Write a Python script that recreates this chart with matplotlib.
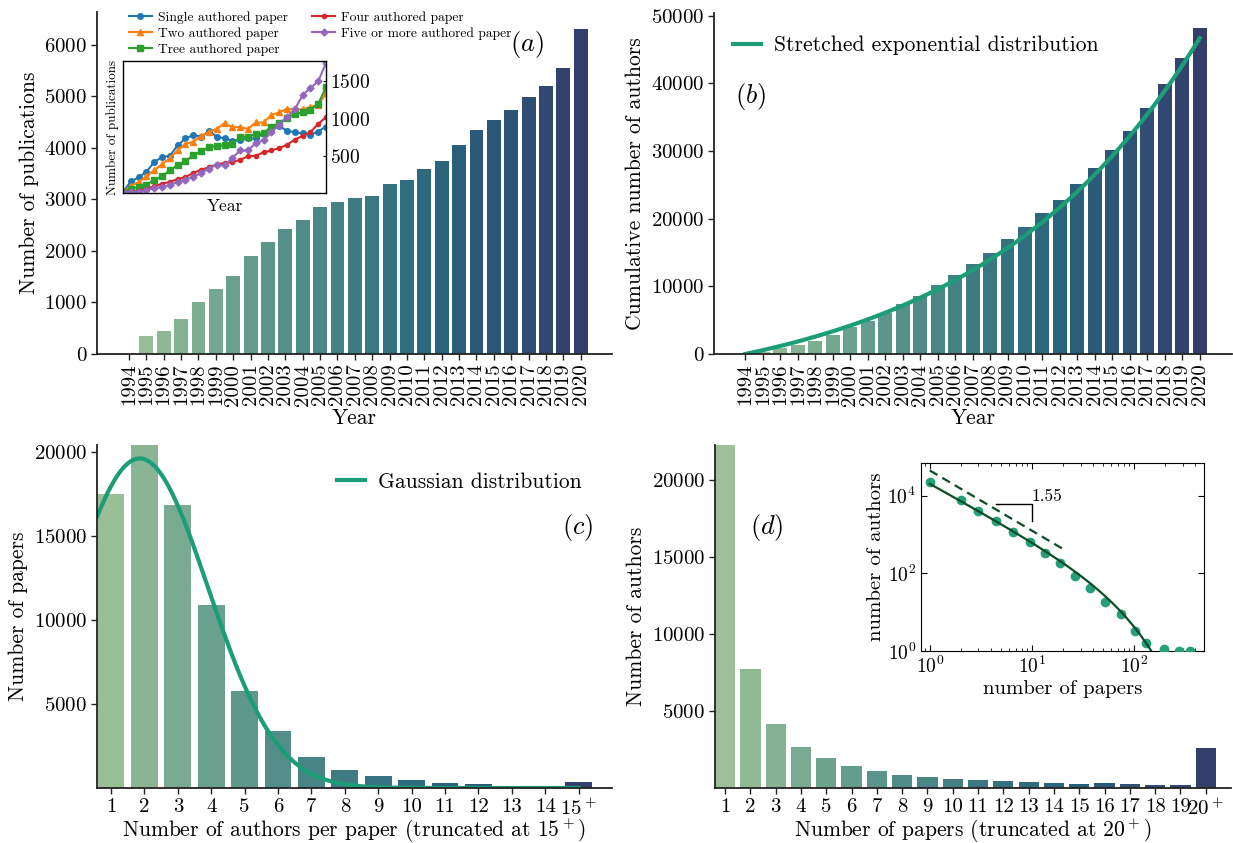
import numpy as np
import matplotlib
matplotlib.use("Agg")
import matplotlib.pyplot as plt
import seaborn as sns

plt.rcParams['font.family'] = 'serif'
plt.rcParams['font.serif'] = ['cmr10']
plt.rcParams['mathtext.fontset'] = 'cm'
plt.rcParams['axes.formatter.use_mathtext'] = True
plt.rcParams['axes.unicode_minus'] = False

# ---------------- data ----------------
years = list(range(1994, 2021))
year_labels = [str(y) for y in years]

publications = [0, 350, 450, 680, 1010, 1260, 1515, 1900, 2175, 2430, 2600, 2855, 2950,
                3030, 3070, 3300, 3380, 3590, 3750, 4060, 4350, 4545, 4740, 4990, 5205,
                5555, 6310]

single_auth = [30, 170, 223, 298, 425, 491, 509, 645, 737, 781, 763, 834, 763, 737, 706,
               711, 737, 737, 807, 873, 904, 838, 820, 803, 785, 829, 895]
two_auth = [30, 114, 158, 237, 316, 399, 478, 579, 667, 693, 772, 820, 864, 939, 886,
            886, 864, 948, 948, 1049, 1080, 1132, 1115, 1123, 1150, 1180, 1334]
three_auth = [30, 74, 96, 127, 193, 237, 316, 386, 434, 518, 566, 623, 640, 645, 667,
              755, 763, 794, 807, 895, 939, 1005, 1062, 1080, 1115, 1194, 1413]
four_auth = [30, 35, 48, 70, 105, 140, 162, 202, 228, 281, 325, 355, 395, 412, 425,
             456, 500, 509, 553, 579, 610, 654, 720, 772, 820, 930, 1018]
five_auth = [30, 30, 35, 53, 83, 96, 122, 158, 193, 228, 281, 338, 390, 382, 478,
             579, 579, 676, 711, 820, 921, 1023, 1120, 1309, 1405, 1493, 1734]

cumulative_authors = [60, 350, 840, 1340, 1980, 2870, 3960, 4950, 6040, 7420, 8560,
                      10250, 11730, 13370, 15000, 16930, 18710, 20790, 22720, 25100,
                      27470, 30150, 32970, 36390, 39850, 43800, 48200]
# stretched exponential fit parameters
sexp_A, sexp_tau, sexp_beta = 6984.0, 12.75, 1.0

authors_per_paper_labels = [str(i) for i in range(1, 15)] + ['15$^+$']
papers_by_nauthors = [17490, 20400, 16830, 10860, 5780, 3390, 1830, 1060, 700, 460,
                      280, 220, 100, 50, 340]
# gaussian fit parameters (x in units of number of authors)
gauss_A, gauss_mu, gauss_sigma = 19600.0, 1.86, 2.05

papers_per_author_labels = [str(i) for i in range(1, 20)] + ['20$^+$']
authors_by_npapers = [22300, 7740, 4150, 2650, 1935, 1410, 1090, 825, 695, 565, 500,
                      435, 370, 305, 240, 305, 240, 175, 175, 2590]

# log-binned inset data
inset_papers = [1, 2, 3, 4.5, 6.5, 9.5, 13.5, 19, 26.5, 37, 52, 74, 103, 131, 197, 278, 354]
inset_authors = [22400, 7600, 4030, 2230, 1200, 640, 340, 185, 87, 42, 18.6, 8.8, 3.3,
                 1.6, 1.1, 1.0, 1.0]
fit_C, fit_alpha, fit_xc = 20740.0, 1.45, 55.0
guide_C, guide_slope = 44900.0, 1.55

# ---------------- style ----------------
TICK_FS = 15
LABEL_FS = 15.5
FIT_COLOR = '#1b9e77'
W, H = 1233, 843

fig = plt.figure(figsize=(12.33, 8.43), dpi=100)


def fig_rect(l, t, r, b):
    return [l / W, 1 - b / H, (r - l) / W, (b - t) / H]


def palette(n):
    return [sns.desaturate(c, 0.75) for c in sns.color_palette('crest', n)]


def style_main(ax):
    for s in ['top', 'right']:
        ax.spines[s].set_visible(False)
    for s in ['left', 'bottom']:
        ax.spines[s].set_linewidth(1.3)
        ax.spines[s].set_color('#222222')
    ax.tick_params(axis='both', direction='out', length=4, width=1.0,
                   labelsize=TICK_FS, pad=3, color='#222222')


# ---------------- (a) ----------------
ax_a = fig.add_axes(fig_rect(97, 12, 612, 354))
cols_a = palette(len(years))
xa = np.arange(len(years))
ax_a.bar(xa, publications, width=0.8, color=cols_a)
ax_a.set_xlim(-1.84, 27.8)
ax_a.set_ylim(0, 6635)
ax_a.set_xticks(xa)
ax_a.set_xticklabels(year_labels, rotation=90)
ax_a.set_yticks(np.arange(0, 7000, 1000))
ax_a.set_xlabel('Year', fontsize=LABEL_FS, labelpad=2)
ax_a.set_ylabel('Number of publications', fontsize=LABEL_FS)
style_main(ax_a)
ax_a.text(0.835, 0.905, '$(a)$', transform=ax_a.transAxes, fontsize=19,
          ha='center', va='center')

ax_ai = fig.add_axes(fig_rect(123, 61, 326, 193))
series = [
    (single_auth, 'Single authored paper', '#1f77b4', 'o', 4.0),
    (two_auth, 'Two authored paper', '#ff7f0e', '^', 4.5),
    (three_auth, 'Tree authored paper', '#2ca02c', 's', 4.0),
    (four_auth, 'Four authored paper', '#d62728', 'o', 3.0),
    (five_auth, 'Five or more authored paper', '#9467bd', 'D', 3.5),
]
handles = []
for vals, lab, c, m, ms in series:
    h, = ax_ai.plot(years, vals, color=c, marker=m, ms=ms, lw=1.5, label=lab)
    handles.append(h)
ax_ai.set_xlim(1994, 2020)
ax_ai.set_ylim(17, 1760)
ax_ai.set_xticks([])
ax_ai.set_yticks([500, 1000, 1500])
ax_ai.tick_params(axis='y', left=False, right=True, labelleft=False, labelright=True,
                  labelsize=14, length=2, pad=3, direction='in')
for s in ax_ai.spines.values():
    s.set_linewidth(1.0)
ax_ai.set_xlabel('Year', fontsize=12.5, labelpad=4)
ax_ai.set_ylabel('Number of publications', fontsize=9.5, labelpad=3)
ax_ai.legend(handles=handles, loc='upper left', bbox_to_anchor=(129 / W, 1 - 11 / H),
             bbox_transform=fig.transFigure, ncol=2, frameon=False, fontsize=9.7,
             handlelength=1.7, handletextpad=0.45, columnspacing=1.8,
             labelspacing=0.27, borderpad=0, borderaxespad=0)

# ---------------- (b) ----------------
ax_b = fig.add_axes(fig_rect(714, 13, 1232, 354))
xb = np.arange(len(years))
ax_b.bar(xb, cumulative_authors, width=0.8, color=cols_a)
t = np.linspace(0, len(years) - 1, 300)
fit_b = sexp_A * (np.exp((t / sexp_tau) ** sexp_beta) - 1)
ax_b.plot(t, fit_b, color=FIT_COLOR, lw=3, label='Stretched exponential distribution')
ax_b.set_xlim(-1.8, 27.85)
ax_b.set_ylim(0, 50400)
ax_b.set_xticks(xb)
ax_b.set_xticklabels(year_labels, rotation=90)
ax_b.set_yticks(np.arange(0, 50001, 10000))
ax_b.set_xlabel('Year', fontsize=LABEL_FS, labelpad=2)
ax_b.set_ylabel('Cumulative number of authors', fontsize=LABEL_FS)
style_main(ax_b)
ax_b.legend(loc='upper left', bbox_to_anchor=(0, 0.99), frameon=False, fontsize=15.5,
            handlelength=1.3, handletextpad=0.6)
ax_b.text(0.07, 0.755, '$(b)$', transform=ax_b.transAxes, fontsize=19,
          ha='center', va='center')

# ---------------- (c) ----------------
ax_c = fig.add_axes(fig_rect(97, 445, 612, 788))
xc = np.arange(len(papers_by_nauthors))
cols_c = palette(len(xc))
ax_c.bar(xc, papers_by_nauthors, width=0.8, color=cols_c)
xg = np.linspace(-0.42, len(xc) - 1, 400)
gauss = gauss_A * np.exp(-((xg + 1) - gauss_mu) ** 2 / (2 * gauss_sigma ** 2))
ax_c.plot(xg, gauss, color=FIT_COLOR, lw=3, label='Gaussian distribution')
ax_c.set_xlim(-0.42, 15.0)
ax_c.set_ylim(0, max(papers_by_nauthors))
ax_c.set_xticks(xc)
ax_c.set_xticklabels(authors_per_paper_labels)
ax_c.set_yticks([5000, 10000, 15000, 20000])
ax_c.set_xlabel('Number of authors per paper (truncated at 15$^+$)', fontsize=LABEL_FS,
                labelpad=-1)
ax_c.set_ylabel('Number of papers', fontsize=LABEL_FS)
style_main(ax_c)
ax_c.legend(loc='upper right', bbox_to_anchor=(0.979, 0.977), frameon=False,
            fontsize=15.5, handlelength=1.3, handletextpad=0.6)
ax_c.text(0.934, 0.76, '$(c)$', transform=ax_c.transAxes, fontsize=19,
          ha='center', va='center')

# ---------------- (d) ----------------
ax_d = fig.add_axes(fig_rect(715, 445, 1231, 788))
xd = np.arange(len(authors_by_npapers))
cols_d = palette(len(xd))
ax_d.bar(xd, authors_by_npapers, width=0.8, color=cols_d)
ax_d.set_xlim(-0.4, 20.0)
ax_d.set_ylim(0, max(authors_by_npapers))
ax_d.set_xticks(xd)
ax_d.set_xticklabels(papers_per_author_labels)
ax_d.set_yticks([5000, 10000, 15000, 20000])
ax_d.set_xlabel('Number of papers (truncated at 20$^+$)', fontsize=LABEL_FS, labelpad=-1)
ax_d.set_ylabel('Number of authors', fontsize=LABEL_FS)
style_main(ax_d)
ax_d.text(0.1, 0.76, '$(d)$', transform=ax_d.transAxes, fontsize=19,
          ha='center', va='center')

ax_di = fig.add_axes(fig_rect(921, 463, 1204, 651))
ax_di.plot(inset_papers, inset_authors, 'o', color='#26a07a', ms=6, zorder=3,
           clip_on=True)
xf = np.logspace(0, np.log10(170), 300)
yf = fit_C * xf ** (-fit_alpha) * np.exp(-xf / fit_xc)
ax_di.plot(xf, yf, color='#0b4d26', lw=1.6, zorder=4)
xgd = np.logspace(0, np.log10(20), 50)
ax_di.plot(xgd, guide_C * xgd ** (-guide_slope), '--', color='#0b4d26', lw=1.6,
           dashes=(4, 2.5))
ax_di.plot([4.5, 10, 10], [6220, 6220, 2230], color='black', lw=1.0)
ax_di.text(10, 6300, '1.55', fontsize=12.5, ha='left', va='bottom')
ax_di.set_xscale('log')
ax_di.set_yscale('log')
ax_di.set_xlim(0.82, 486)
ax_di.set_ylim(1, 7e4)
ax_di.set_yticks([1, 1e2, 1e4])
ax_di.yaxis.set_minor_locator(matplotlib.ticker.NullLocator())
ax_di.tick_params(which='both', direction='in', top=True, right=True, labelsize=14)
ax_di.tick_params(which='major', length=4)
ax_di.tick_params(which='minor', length=2.5)
ax_di.set_xlabel('number of papers', fontsize=15, labelpad=2)
ax_di.set_ylabel('number of authors', fontsize=15, labelpad=2)

fig.savefig('out.png', dpi=100)
